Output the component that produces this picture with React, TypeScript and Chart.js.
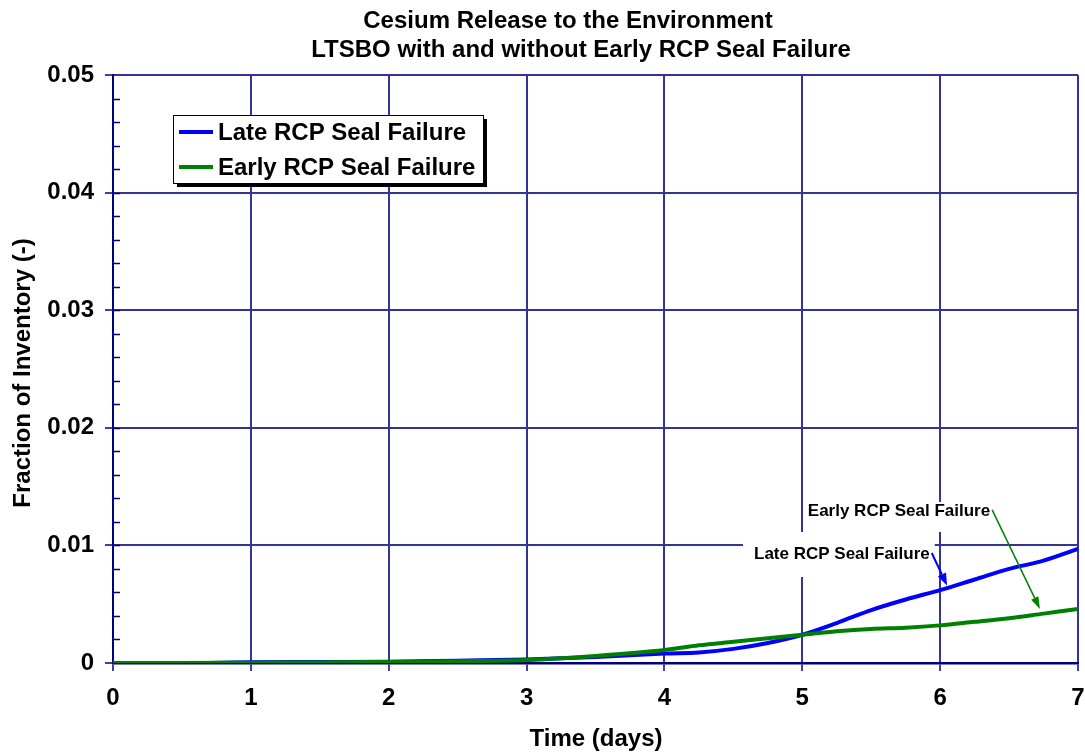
import React, { useEffect, useRef } from 'react';
import { Chart, registerables } from 'chart.js';

Chart.register(...registerables);

const FONT = "'Liberation Sans', Arial, Helvetica, sans-serif";

// ---- Data ----
const titleLines = ['Cesium Release to the Environment', 'LTSBO with and without Early RCP Seal Failure'];
const xAxisTitle = 'Time (days)';
const yAxisTitle = 'Fraction of Inventory (-)';
const seriesNames = ['Late RCP Seal Failure', 'Early RCP Seal Failure'];
const seriesColors = ['#0000ff', '#008000'];

const days = [0, 0.5, 1, 1.5, 2, 2.5, 3, 3.5, 4, 4.25, 4.5, 4.75, 5, 5.25, 5.5, 5.75, 6, 6.25, 6.5, 6.75, 7];
const lateRelease = [0, 0, 0.00006, 0.00008, 0.0001, 0.0002, 0.0003, 0.0005, 0.0008, 0.0009, 0.0012, 0.0017, 0.0024, 0.0034, 0.0045, 0.0054, 0.0062, 0.0071, 0.008, 0.0087, 0.0097];
const earlyRelease = [0, 0, 0.00003, 0.00005, 0.00008, 0.00015, 0.00025, 0.0006, 0.0011, 0.0015, 0.0018, 0.0021, 0.0024, 0.0027, 0.0029, 0.003, 0.0032, 0.0035, 0.0038, 0.0042, 0.0046];

const xTickLabels = ['0', '1', '2', '3', '4', '5', '6', '7'];
const yTickLabels = ['0', '0.01', '0.02', '0.03', '0.04', '0.05'];

// annotations: text (series name), text anchor (left, middle) in data units, arrow tip in data units
const annotationSeries = [0, 1];
const annotationTextAnchors = [[4.65, 0.00927], [5.04, 0.01293]];
const annotationArrowTips = [[6.05, 0.0066], [6.724, 0.0046]];

function drawArrow(ctx: CanvasRenderingContext2D, x1: number, y1: number, x2: number, y2: number, color: string, width: number, headLen: number, headW: number) {
  const ang = Math.atan2(y2 - y1, x2 - x1);
  const bx = x2 - headLen * Math.cos(ang);
  const by = y2 - headLen * Math.sin(ang);
  ctx.save();
  ctx.strokeStyle = color;
  ctx.lineWidth = width;
  ctx.beginPath();
  ctx.moveTo(x1, y1);
  ctx.lineTo(bx, by);
  ctx.stroke();
  ctx.fillStyle = color;
  ctx.beginPath();
  ctx.moveTo(x2, y2);
  ctx.lineTo(bx + (headW / 2) * Math.sin(ang), by - (headW / 2) * Math.cos(ang));
  ctx.lineTo(bx - (headW / 2) * Math.sin(ang), by + (headW / 2) * Math.cos(ang));
  ctx.closePath();
  ctx.fill();
  ctx.restore();
}

const decorPlugin = {
  id: 'decor',
  afterDatasetsDraw(chart: any) {
    const ctx: CanvasRenderingContext2D = chart.ctx;
    const xs = chart.scales.x;
    const ys = chart.scales.y;
    const boxPads = [[11, 22, 5, 23], [4, 9, 2, 21]];
    const arrowStyle = [[2, 12, 9], [1.5, 12, 8]];
    ctx.save();
    ctx.font = `bold 17px ${FONT}`;
    annotationSeries.forEach((si, i) => {
      const text = seriesNames[si];
      const tx = xs.getPixelForValue(annotationTextAnchors[i][0]);
      const ty = ys.getPixelForValue(annotationTextAnchors[i][1]);
      const w = ctx.measureText(text).width;
      const p = boxPads[i];
      ctx.fillStyle = '#ffffff';
      ctx.fillRect(tx - p[0], ty - p[1], w + p[0] + p[2], p[1] + p[3]);
    });
    annotationSeries.forEach((si, i) => {
      const text = seriesNames[si];
      const tx = xs.getPixelForValue(annotationTextAnchors[i][0]);
      const ty = ys.getPixelForValue(annotationTextAnchors[i][1]);
      const w = ctx.measureText(text).width;
      ctx.fillStyle = '#000000';
      ctx.textAlign = 'left';
      ctx.textBaseline = 'middle';
      ctx.fillText(text, tx, ty);
      const ax = xs.getPixelForValue(annotationArrowTips[i][0]);
      const ay = ys.getPixelForValue(annotationArrowTips[i][1]);
      const st = arrowStyle[i];
      drawArrow(ctx, tx + w + 2, ty - 1, ax, ay, seriesColors[si], st[0], st[1], st[2]);
    });
    ctx.restore();
  },
  afterDraw(chart: any) {
    const ctx: CanvasRenderingContext2D = chart.ctx;
    const ca = chart.chartArea;
    const ys = chart.scales.y;
    ctx.save();
    // minor ticks on y axis (inside)
    ctx.strokeStyle = '#000080';
    ctx.lineWidth = 1.5;
    for (let v = 0.002; v < 0.05; v += 0.002) {
      const y = Math.round(ys.getPixelForValue(v)) + 0.5;
      ctx.beginPath();
      ctx.moveTo(ca.left, y);
      ctx.lineTo(ca.left + 7, y);
      ctx.stroke();
    }
    ctx.fillStyle = '#000000';
    // title
    ctx.font = `bold 24px ${FONT}`;
    ctx.textAlign = 'center';
    ctx.textBaseline = 'alphabetic';
    ctx.fillText(titleLines[0], 568, 28);
    ctx.fillText(titleLines[1], 581, 57);
    // x title
    ctx.fillText(xAxisTitle, 596, 746);
    // y title
    ctx.save();
    ctx.translate(23, 373);
    ctx.rotate(-Math.PI / 2);
    ctx.textBaseline = 'middle';
    ctx.fillText(yAxisTitle, 0, 0);
    ctx.restore();
    // legend
    const lx = 173, ly = 115, lw = 310, lh = 68;
    ctx.fillStyle = '#000000';
    ctx.fillRect(lx + 4, ly + 4, lw, lh);
    ctx.fillStyle = '#ffffff';
    ctx.fillRect(lx, ly, lw, lh);
    ctx.strokeStyle = '#000000';
    ctx.lineWidth = 1;
    ctx.strokeRect(lx + 0.5, ly + 0.5, lw, lh);
    ctx.font = `bold 24px ${FONT}`;
    ctx.textAlign = 'left';
    ctx.textBaseline = 'middle';
    seriesNames.forEach((name, i) => {
      const y = ly + 17 + i * 35;
      ctx.strokeStyle = seriesColors[i];
      ctx.lineWidth = 4;
      ctx.beginPath();
      ctx.moveTo(lx + 6, y);
      ctx.lineTo(lx + 40, y);
      ctx.stroke();
      ctx.fillStyle = '#000000';
      ctx.fillText(name, lx + 45, y + 1);
    });
    ctx.restore();
  },
};

export default function App() {
  const canvasRef = useRef<HTMLCanvasElement | null>(null);

  useEffect(() => {
    if (!canvasRef.current) return;
    const tickFont = { family: FONT, size: 24, weight: 'bold' as const };
    const chart = new Chart(canvasRef.current, {
      type: 'line',
      data: {
        datasets: [
          {
            label: seriesNames[0],
            data: days.map((d, i) => ({ x: d, y: lateRelease[i] })),
            borderColor: seriesColors[0],
            backgroundColor: seriesColors[0],
            borderWidth: 4,
            pointRadius: 0,
            cubicInterpolationMode: 'monotone',
            order: 1,
          },
          {
            label: seriesNames[1],
            data: days.map((d, i) => ({ x: d, y: earlyRelease[i] })),
            borderColor: seriesColors[1],
            backgroundColor: seriesColors[1],
            borderWidth: 4,
            pointRadius: 0,
            cubicInterpolationMode: 'monotone',
            order: 0,
          },
        ],
      },
      options: {
        animation: false,
        responsive: false,
        devicePixelRatio: 1,
        layout: { padding: { top: 75, right: 7, bottom: 0, left: 0 }, autoPadding: false },
        plugins: {
          legend: { display: false },
          title: { display: false },
          tooltip: { enabled: false },
        },
        scales: {
          x: {
            type: 'linear',
            min: 0,
            max: 7,
            ticks: {
              stepSize: 1,
              font: tickFont,
              color: '#000000',
              padding: 13,
              maxRotation: 0,
              callback: (v: any) => xTickLabels[Math.round(Number(v))] ?? '',
            },
            grid: { color: '#333399', lineWidth: 2, tickLength: 8, tickColor: '#000080', tickWidth: 1.5 },
            border: { color: '#000080', width: 2.5 },
            afterFit: (s: any) => { s.height = 89; s.paddingLeft = 0; s.paddingRight = 0; },
          },
          y: {
            type: 'linear',
            min: 0,
            max: 0.05,
            ticks: {
              stepSize: 0.01,
              font: tickFont,
              color: '#000000',
              padding: 11,
              callback: (_v: any, i: number) => yTickLabels[i] ?? '',
            },
            grid: { color: '#333399', lineWidth: 2, tickLength: 8, tickColor: '#000080', tickWidth: 1.5 },
            border: { color: '#000080', width: 2 },
            afterFit: (s: any) => { s.width = 113; s.paddingTop = 0; s.paddingBottom = 0; },
          },
        },
      },
      plugins: [decorPlugin],
    });
    return () => chart.destroy();
  }, []);

  return (
    <div style={{ position: 'absolute', left: 0, top: 0, width: 1085, height: 752, background: '#ffffff' }}>
      <canvas ref={canvasRef} width={1085} height={752} style={{ display: 'block' }} />
    </div>
  );
}
